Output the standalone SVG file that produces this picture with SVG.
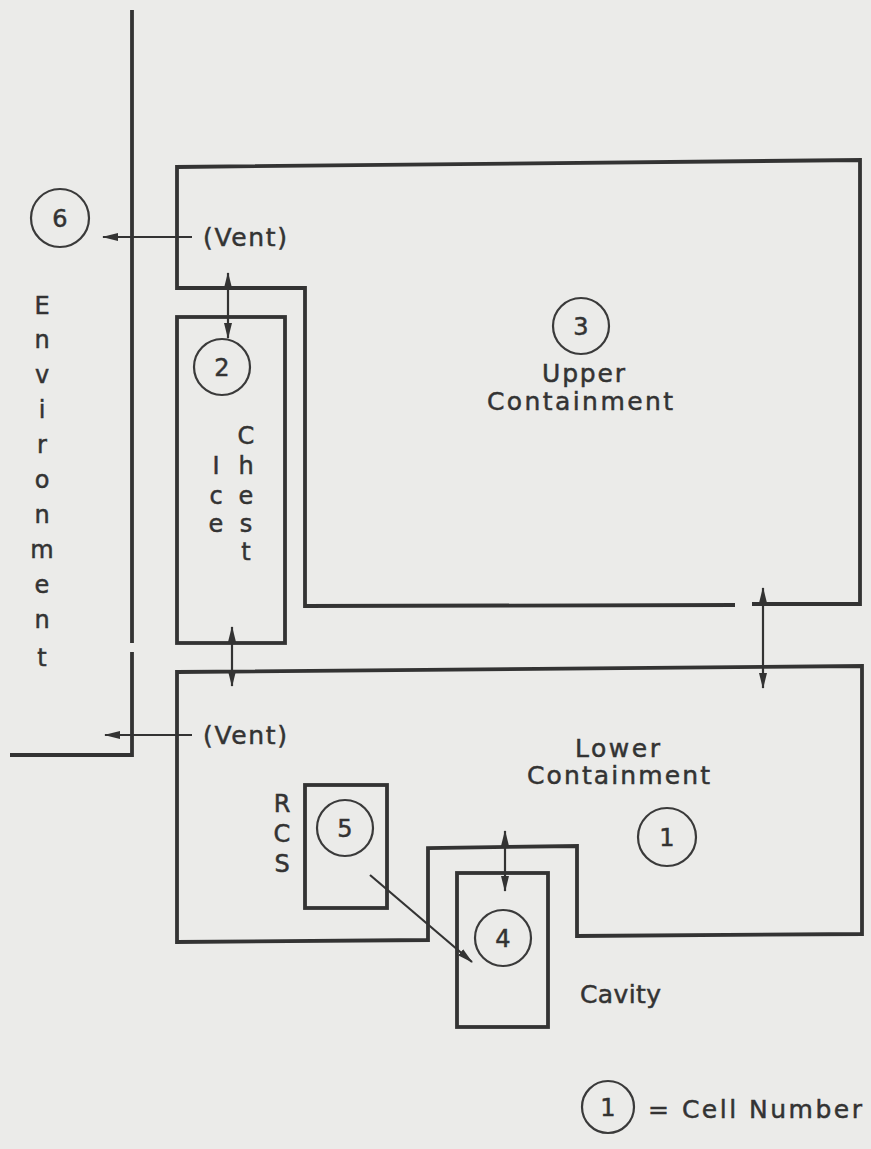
<svg xmlns="http://www.w3.org/2000/svg" width="871" height="1149" viewBox="0 0 871 1149">
<defs>
<marker id="ah" markerUnits="userSpaceOnUse" markerWidth="16" markerHeight="10" refX="15" refY="5" orient="auto-start-reverse">
<path d="M0,1 L16,5 L0,9 Z" fill="#333"/>
</marker>
<style>
.wall{fill:none;stroke:#333;stroke-width:3.8;stroke-linejoin:miter}
.cell{fill:none;stroke:#3a3a3a;stroke-width:2.2}
.arr{fill:none;stroke:#333;stroke-width:2.2}
.lbl{font-family:"DejaVu Sans","Liberation Sans",sans-serif;font-size:25px;fill:#333;stroke:#333;stroke-width:0.5}
.num{font-family:"DejaVu Sans","Liberation Sans",sans-serif;font-size:24px;fill:#333;stroke:#333;stroke-width:0.5;text-anchor:middle}
.vt{font-family:"DejaVu Sans","Liberation Sans",sans-serif;font-size:24px;fill:#333;stroke:#333;stroke-width:0.5;text-anchor:middle}
</style>
</defs>
<rect x="0" y="0" width="871" height="1149" fill="#ebebe9"/>

<g id="environment">
<path class="wall" d="M132,10 L132,643 M132,652 L132,755 L10,755"/>
<circle class="cell" cx="60" cy="218" r="29"/>
<text class="num" x="60" y="227">6</text>
<text class="vt" x="42" y="314">E</text>
<text class="vt" x="42" y="348">n</text>
<text class="vt" x="42" y="383">v</text>
<text class="vt" x="42" y="418">i</text>
<text class="vt" x="42" y="453">r</text>
<text class="vt" x="42" y="488">o</text>
<text class="vt" x="42" y="523">n</text>
<text class="vt" x="42" y="558">m</text>
<text class="vt" x="42" y="593">e</text>
<text class="vt" x="42" y="628">n</text>
<text class="vt" x="42" y="666">t</text>
</g>

<g id="upper-containment">
<path class="wall" d="M752,604 L860,604 L860,160 L177,167 L177,288 L305,288 L305,606 L735,605"/>
<circle class="cell" cx="581" cy="326" r="28"/>
<text class="num" x="581" y="335">3</text>
<text class="lbl" x="542" y="382" textLength="83" lengthAdjust="spacing">Upper</text>
<text class="lbl" x="487" y="410" textLength="186" lengthAdjust="spacing">Containment</text>
<text class="lbl" x="203" y="246" textLength="84" lengthAdjust="spacing">(Vent)</text>
</g>

<g id="ice-chest">
<rect class="wall" x="177" y="317" width="108" height="326"/>
<circle class="cell" cx="222" cy="367" r="28"/>
<text class="num" x="222" y="376">2</text>
<text class="vt" x="246" y="444">C</text>
<text class="vt" x="246" y="474">h</text>
<text class="vt" x="246" y="504">e</text>
<text class="vt" x="246" y="532">s</text>
<text class="vt" x="246" y="560">t</text>
<text class="vt" x="216" y="474">I</text>
<text class="vt" x="216" y="504">c</text>
<text class="vt" x="216" y="532">e</text>
</g>

<g id="lower-containment">
<path class="wall" d="M177,672 L862,666 L862,934 L577,936 L577,846 L428,848 L428,940 L177,942 Z"/>
<text class="lbl" x="575" y="757" textLength="85" lengthAdjust="spacing">Lower</text>
<text class="lbl" x="527" y="784" textLength="183" lengthAdjust="spacing">Containment</text>
<circle class="cell" cx="667" cy="837" r="29"/>
<text class="num" x="667" y="846">1</text>
<text class="lbl" x="203" y="744" textLength="84" lengthAdjust="spacing">(Vent)</text>
</g>

<g id="rcs">
<rect class="wall" x="305" y="785" width="82" height="123"/>
<circle class="cell" cx="345" cy="828" r="28"/>
<text class="num" x="345" y="837">5</text>
<text class="vt" x="282" y="812">R</text>
<text class="vt" x="282" y="842">C</text>
<text class="vt" x="282" y="872">S</text>
</g>

<g id="cavity">
<rect class="wall" x="457" y="873" width="91" height="154"/>
<circle class="cell" cx="503" cy="938" r="28"/>
<text class="num" x="503" y="947">4</text>
<text class="lbl" x="580" y="1003" textLength="81" lengthAdjust="spacing">Cavity</text>
</g>

<g id="connectors">
<line class="arr" x1="192" y1="237" x2="103" y2="237" marker-end="url(#ah)"/>
<line class="arr" x1="192" y1="735" x2="105" y2="735" marker-end="url(#ah)"/>
<line class="arr" x1="228" y1="273" x2="228" y2="338" marker-start="url(#ah)" marker-end="url(#ah)"/>
<line class="arr" x1="232" y1="627" x2="232" y2="686" marker-start="url(#ah)" marker-end="url(#ah)"/>
<line class="arr" x1="763" y1="588" x2="763" y2="688" marker-start="url(#ah)" marker-end="url(#ah)"/>
<line class="arr" x1="505" y1="831" x2="505" y2="891" marker-start="url(#ah)" marker-end="url(#ah)"/>
<line class="arr" x1="370" y1="875" x2="472" y2="962" marker-end="url(#ah)"/>
</g>

<g id="legend">
<circle class="cell" cx="608" cy="1107" r="26"/>
<text class="num" x="608" y="1116">1</text>
<text class="lbl" x="648" y="1118" textLength="214" lengthAdjust="spacing">= Cell Number</text>
</g>
</svg>
